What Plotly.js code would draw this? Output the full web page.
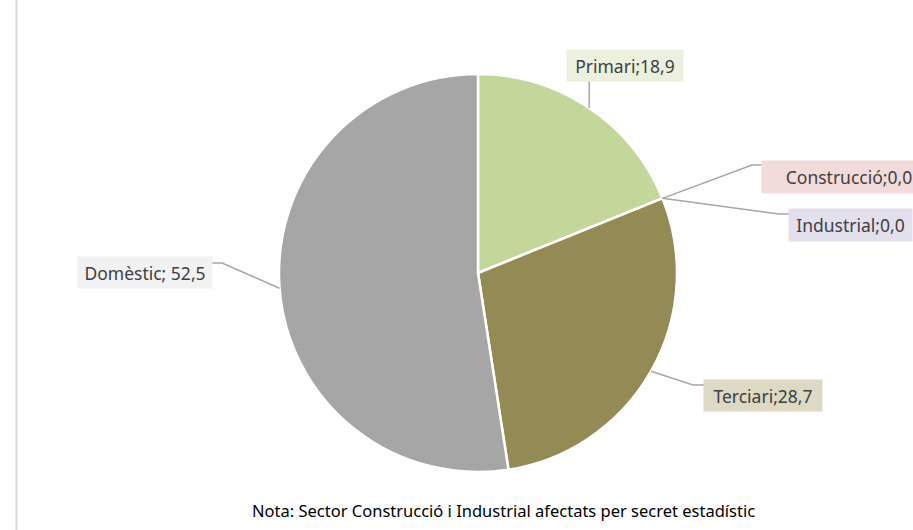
<!DOCTYPE html>
<html><head><meta charset="utf-8">
<script src="https://cdn.plot.ly/plotly-3.0.1.min.js"></script>
<style>html,body{margin:0;padding:0;background:#fff;}#chart{width:913px;height:530px;}</style>
</head><body><div id="chart"></div>
<script>
// ---- data ----
const sectors = ['Primari', 'Construcció', 'Industrial', 'Terciari', 'Domèstic'];
const values = [18.9, 0.0, 0.0, 28.7, 52.5];
const separators = [';', ';', ';', ';', '; '];
const note = 'Nota: Sector Construcció i Industrial afectats per secret estadístic';

// ---- styles / layout ----
const W = 913, H = 530;
const colors = ['#c4d79b', '#e6b9b8', '#b3a2c7', '#948a54', '#a6a6a6'];
const boxColors = ['#ebf1de', '#f2dcdb', '#e4dfec', '#ddd9c4', '#f2f2f2'];
const cx = 478, cy = 273, R = 199;
// label box layout (pixel centre, size) and leader elbows
const boxes = [
  {x: 625, y: 65.5, w: 116, h: 31, elbow: null, end: [null, 81]},
  {x: 849, y: 177, w: 174, h: 32, elbow: [752, 165], end: [762, 165]},
  {x: 850.5, y: 225, w: 123, h: 32, elbow: [779, 214], end: [789, 214]},
  {x: 763, y: 395.5, w: 118, h: 31, elbow: [693, 385], end: [704, 385]},
  {x: 145, y: 272.5, w: 134, h: 31, elbow: [222, 263], end: [212, 263]}
];
const px = x => x / W, py = y => 1 - y / H;
const fmt = v => v.toFixed(1).replace('.', ',');

const total = values.reduce((a, b) => a + b, 0);
let cum = 0;
const shapes = [{type: 'line', xref: 'paper', yref: 'paper', x0: px(16.5), x1: px(16.5), y0: 0, y1: 1,
  line: {color: '#d9d9d9', width: 2}}];
const annotations = [];
sectors.forEach((s, i) => {
  const mid = (cum + values[i] / 2) / total * 2 * Math.PI;
  cum += values[i];
  const sx = cx + R * Math.sin(mid), sy = cy - R * Math.cos(mid);
  const b = boxes[i];
  const ex = b.end[0] === null ? sx : b.end[0];
  const ey = b.end[1];
  let path = `M ${px(sx)} ${py(sy)}`;
  if (b.elbow) path += ` L ${px(b.elbow[0])} ${py(b.elbow[1])}`;
  path += ` L ${px(ex)} ${py(ey)}`;
  shapes.push({type: 'path', xref: 'paper', yref: 'paper', path: path, line: {color: '#a6a6a6', width: 1.5}});
  annotations.push({
    xref: 'paper', yref: 'paper', x: px(b.x), y: py(b.y), xanchor: 'center', yanchor: 'middle',
    text: s + separators[i] + fmt(values[i]), showarrow: false,
    bgcolor: boxColors[i], borderpad: 0, width: b.w, height: b.h, align: 'center', valign: 'middle',
    font: {family: 'Noto Sans, sans-serif', size: 17.5, color: '#404040'}
  });
});
annotations.push({xref: 'paper', yref: 'paper', x: px(503), y: py(510), xanchor: 'center', yanchor: 'middle',
  text: note, showarrow: false, font: {family: 'Noto Sans, sans-serif', size: 16.5, color: '#000'}});

const trace = {
  type: 'pie', labels: sectors, values: values, sort: false, direction: 'clockwise', rotation: 0,
  marker: {colors: colors, line: {color: '#ffffff', width: 2.5}},
  textinfo: 'none', hoverinfo: 'label+value', showlegend: false,
  domain: {x: [px(cx - R), px(cx + R)], y: [py(cy + R), py(cy - R)]}
};
Plotly.newPlot('chart', [trace], {
  width: W, height: H, margin: {l: 0, r: 0, t: 0, b: 0},
  paper_bgcolor: '#ffffff', showlegend: false, shapes: shapes, annotations: annotations
}, {displayModeBar: false, staticPlot: true});
</script></body></html>
